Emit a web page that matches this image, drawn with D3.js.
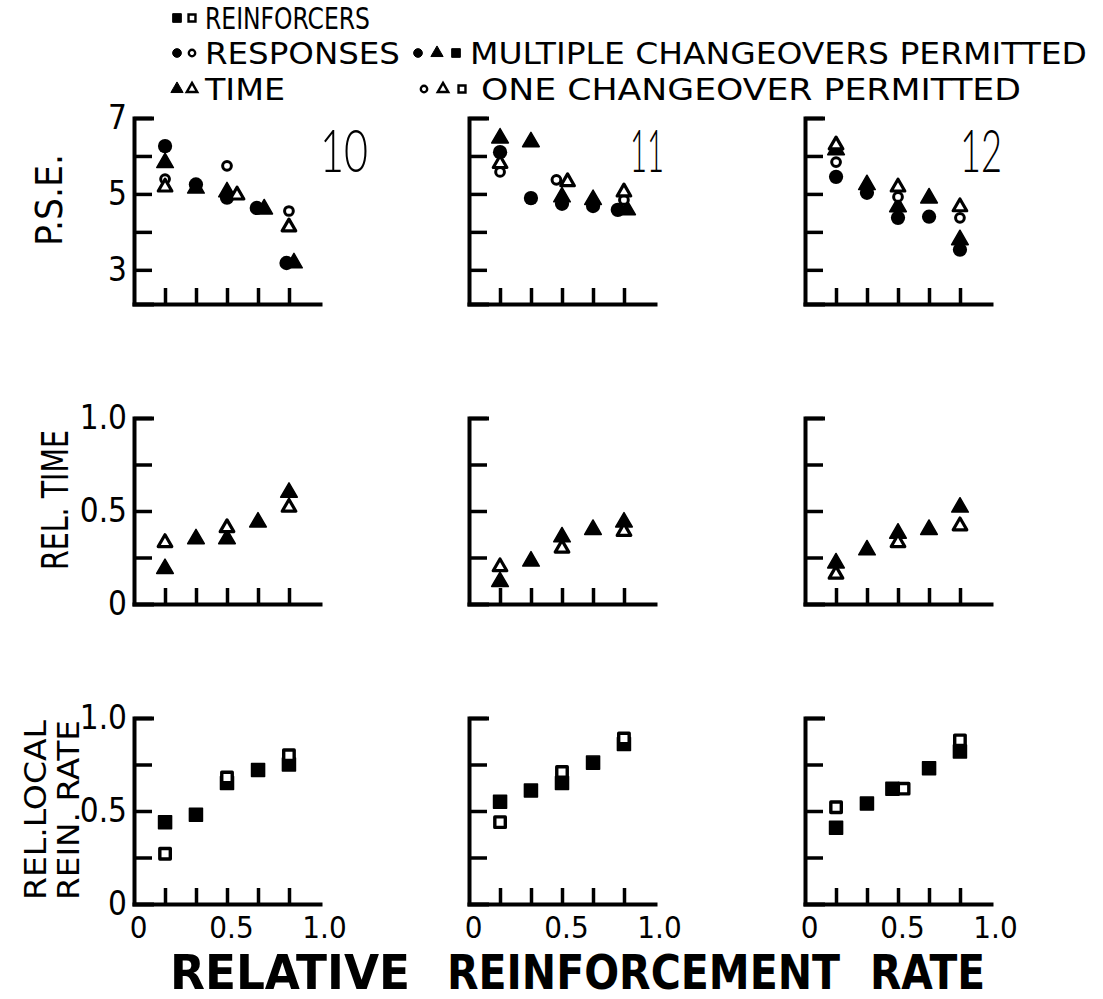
<!DOCTYPE html>
<html><head><meta charset="utf-8">
<script src="https://cdn.jsdelivr.net/npm/d3@7"></script>
<style>
body{margin:0;background:#fff}
text{font-family:"DejaVu Sans Condensed","DejaVu Sans",sans-serif;fill:#000}
</style>
</head><body>
<svg id="c" width="1103" height="999"></svg>
<script>
// ---------- DATA ----------
const subjects = ["10", "11", "12"];
const rowTitles = ["P.S.E.", "REL. TIME", ["REL.LOCAL", "REIN. RATE"]];
const xTicks = [1/6, 2/6, 3/6, 4/6, 5/6];
const xOneRates = [1/6, 3/6, 5/6];
const xLabels = ["0", "0.5", "1.0"];
const xLabelVals = [0, 0.5, 1];
const pseTicks = [3, 4, 5, 6, 7];
const pseLabels = [3, 5, 7];
const relTicks = [0.25, 0.5, 0.75, 1.0];
const relLabelVals = [0, 0.5, 1.0];
const relLabels = ["0", "0.5", "1.0"];

// P.S.E. – responses, multiple changeovers (filled circle)
const pseRespMultiX = [[0.167,0.333,0.5,0.66,0.82],[0.167,0.333,0.5,0.667,0.80],[0.167,0.333,0.5,0.667,0.833]];
const pseRespMulti  = [[6.26,5.25,4.90,4.63,3.18],[6.10,4.89,4.74,4.68,4.58],[5.45,5.03,4.37,4.40,3.53]];
// P.S.E. – time, multiple changeovers (filled triangle)
const pseTimeMultiX = [[0.167,0.333,0.5,0.70,0.86],[0.167,0.333,0.5,0.667,0.85],[0.167,0.333,0.5,0.667,0.833]];
const pseTimeMulti  = [[5.82,5.15,5.05,4.60,3.18],[6.47,6.37,4.92,4.85,4.58],[6.16,5.24,4.66,4.89,3.79]];
// P.S.E. – responses, one changeover (open circle)
const pseRespOneX = [[0.167,0.5,0.833],[0.167,0.47,0.833],[0.167,0.5,0.833]];
const pseRespOne  = [[5.39,5.74,4.55],[5.58,5.37,4.84],[5.84,4.92,4.37]];
// P.S.E. – time, one changeover (open triangle)
const pseTimeOneX = [[0.167,0.554,0.833],[0.167,0.53,0.833],[0.167,0.5,0.833]];
const pseTimeOne  = [[5.18,4.97,4.13],[5.80,5.32,5.05],[6.29,5.18,4.66]];

// Relative time
const relTimeMulti = [[0.19,0.35,0.35,0.44,0.60],[0.12,0.23,0.36,0.40,0.44],[0.22,0.29,0.38,0.40,0.52]];
const relTimeOne   = [[0.33,0.41,0.52],[0.20,0.30,0.39],[0.16,0.33,0.42]];

// Relative local reinforcement rate
const relReinMultiX = [[0.167,0.333,0.5,0.667,0.833],[0.167,0.333,0.5,0.667,0.833],[0.167,0.333,0.47,0.667,0.833]];
const relReinMulti  = [[0.44,0.48,0.65,0.72,0.75],[0.55,0.61,0.65,0.76,0.86],[0.41,0.54,0.62,0.73,0.82]];
const relReinOneX   = [[0.167,0.5,0.833],[0.167,0.5,0.833],[0.167,0.53,0.833]];
const relReinOne    = [[0.27,0.68,0.80],[0.44,0.71,0.89],[0.52,0.62,0.88]];

// ---------- LAYOUT ----------
const svg = d3.select("#c");
const panelLeft = [134, 469, 805];
const rowTop = [118, 418, 718];
const W = 186, H = 186;

const x = d3.scaleLinear().domain([0, 1]).range([0, W]);
const yPse = d3.scaleLinear().domain([2.1, 7]).range([H, 0]);
const yRel = d3.scaleLinear().domain([0, 1]).range([H, 0]);

const triFill = d3.symbol(d3.symbolTriangle, 120)();
const triOpen = d3.symbol(d3.symbolTriangle, 80)();
const sqFill = d3.symbol(d3.symbolSquare, 170)();
const sqOpen = d3.symbol(d3.symbolSquare, 110)();

function drawMarkers(g, xs, ys, yScale, kind) {
  const data = ys.map((v, i) => ({x: xs[i], y: v}));
  const sel = g.append("g").selectAll("path").data(data).join("path")
    .attr("transform", d => `translate(${x(d.x)},${yScale(d.y)})`);
  if (kind === "circleFill") sel.attr("d", d3.symbol(d3.symbolCircle, 160)()).attr("fill", "#000");
  if (kind === "circleOpen") sel.attr("d", d3.symbol(d3.symbolCircle, 60)()).attr("fill", "#fff").attr("stroke", "#000").attr("stroke-width", 3);
  if (kind === "triFill") sel.attr("d", triFill).attr("fill", "#000").attr("stroke", "#000").attr("stroke-width", 1.5).attr("stroke-linejoin", "round");
  if (kind === "triOpen") sel.attr("d", triOpen).attr("fill", "#fff").attr("stroke", "#000").attr("stroke-width", 3.2).attr("stroke-linejoin", "round");
  if (kind === "sqFill") sel.attr("d", sqFill).attr("fill", "#000").attr("stroke", "#000").attr("stroke-width", 1.5).attr("stroke-linejoin", "round");
  if (kind === "sqOpen") sel.attr("d", sqOpen).attr("fill", "#fff").attr("stroke", "#000").attr("stroke-width", 3.4).attr("stroke-linejoin", "round");
}

function axes(g, yScale, yTicks) {
  const ya = g.append("g").call(d3.axisLeft(yScale).tickValues(yTicks).tickSizeInner(-18).tickSizeOuter(-18).tickFormat(""));
  const xa = g.append("g").attr("transform", `translate(0,${H})`)
    .call(d3.axisBottom(x).tickValues(xTicks).tickSizeInner(-16).tickSizeOuter(0).tickFormat(""));
  [ya, xa].forEach(a => {
    a.selectAll("path.domain").attr("stroke", "#000").attr("stroke-width", 4).attr("fill", "none").attr("stroke-linecap", "square");
    a.selectAll(".tick line").attr("stroke", "#000").attr("stroke-width", 3.5);
  });
}

const numCenter = [210, 178, 176];
const numLen = [48, 34, 42];
for (let s = 0; s < 3; s++) {
  // Row 1 – P.S.E.
  let g = svg.append("g").attr("transform", `translate(${panelLeft[s]},${rowTop[0]})`);
  axes(g, yPse, pseTicks);
  drawMarkers(g, pseRespMultiX[s], pseRespMulti[s], yPse, "circleFill");
  drawMarkers(g, pseTimeMultiX[s], pseTimeMulti[s], yPse, "triFill");
  drawMarkers(g, pseRespOneX[s], pseRespOne[s], yPse, "circleOpen");
  drawMarkers(g, pseTimeOneX[s], pseTimeOne[s], yPse, "triOpen");
  g.append("text").attr("x", numCenter[s] - numLen[s] / 2).attr("y", 54)
    .style("font-family", "Lato, 'Open Sans', sans-serif")
    .style("font-weight", 300).style("font-size", "60px")
    .attr("textLength", numLen[s]).attr("lengthAdjust", "spacingAndGlyphs").text(subjects[s]);

  // Row 2 – relative time
  g = svg.append("g").attr("transform", `translate(${panelLeft[s]},${rowTop[1]})`);
  axes(g, yRel, relTicks);
  drawMarkers(g, xTicks, relTimeMulti[s], yRel, "triFill");
  drawMarkers(g, xOneRates, relTimeOne[s], yRel, "triOpen");

  // Row 3 – relative local reinforcement rate
  g = svg.append("g").attr("transform", `translate(${panelLeft[s]},${rowTop[2]})`);
  axes(g, yRel, relTicks);
  drawMarkers(g, relReinMultiX[s], relReinMulti[s], yRel, "sqFill");
  drawMarkers(g, relReinOneX[s], relReinOne[s], yRel, "sqOpen");

  // x labels under bottom row
  const xl = g.append("g").attr("transform", `translate(4,${H})`)
    .call(d3.axisBottom(x).tickValues(xLabelVals).tickSize(0).tickPadding(12).tickFormat((d, i) => xLabels[i]));
  xl.select("path.domain").remove();
  xl.selectAll("text").style("font-size", "31px").attr("fill", "#000");
}

// y labels on left panels
function yLabels(top, scale, vals, fmt) {
  const g = svg.append("g").attr("transform", `translate(${panelLeft[0]},${top})`)
    .call(d3.axisLeft(scale).tickValues(vals).tickSize(0).tickPadding(7).tickFormat(fmt));
  g.select("path.domain").remove();
  g.selectAll("text").style("font-size", "33px").attr("fill", "#000");
}
yLabels(rowTop[0], yPse, pseLabels, d => String(d));
yLabels(rowTop[1], yRel, relLabelVals, (d, i) => relLabels[i]);
yLabels(rowTop[2], yRel, relLabelVals, (d, i) => relLabels[i]);

// Row titles (rotated)
svg.append("text").attr("transform", "translate(62,200) rotate(-90)").attr("text-anchor", "middle")
  .style("font-size", "38px").attr("textLength", 92).attr("lengthAdjust", "spacingAndGlyphs").text(rowTitles[0]);
svg.append("text").attr("transform", "translate(68,500) rotate(-90)").attr("text-anchor", "middle")
  .style("font-size", "37px").attr("textLength", 140).attr("lengthAdjust", "spacingAndGlyphs").text(rowTitles[1]);
svg.append("text").attr("transform", "translate(46,810) rotate(-90)").attr("text-anchor", "middle")
  .style("font-size", "31px").attr("textLength", 180).attr("lengthAdjust", "spacingAndGlyphs").text(rowTitles[2][0]);
svg.append("text").attr("transform", "translate(79,810) rotate(-90)").attr("text-anchor", "middle")
  .style("font-size", "31px").attr("textLength", 180).attr("lengthAdjust", "spacingAndGlyphs").text(rowTitles[2][1]);

// X title
const xTitle = ["RELATIVE", "REINFORCEMENT", "RATE"];
const xTitlePos = [[170, 240], [447, 393], [870, 115]];
xTitle.forEach((t, i) => {
  svg.append("text").attr("x", xTitlePos[i][0]).attr("y", 989)
    .style("font-size", "48px").style("font-weight", "bold")
    .attr("textLength", xTitlePos[i][1]).attr("lengthAdjust", "spacingAndGlyphs").text(t);
});

// Legend
const leg = svg.append("g");
function legMark(kind, cx, cy) {
  const m = {
    circleFill: [d3.symbolCircle, 60, true], circleOpen: [d3.symbolCircle, 32, false],
    triFill: [d3.symbolTriangle, 65, true], triOpen: [d3.symbolTriangle, 48, false],
    sqFill: [d3.symbolSquare, 75, true], sqOpen: [d3.symbolSquare, 48, false]
  }[kind];
  leg.append("path").attr("d", d3.symbol(m[0], m[1])()).attr("transform", `translate(${cx},${cy})`)
    .attr("fill", m[2] ? "#000" : "#fff").attr("stroke", "#000").attr("stroke-width", m[2] ? 1 : 2.4);
}
const legendRows = [
  {y: 18, marks: ["sqFill", "sqOpen"], text: "REINFORCERS", len: 165},
  {y: 53, marks: ["circleFill", "circleOpen"], text: "RESPONSES", len: 195},
  {y: 89, marks: ["triFill", "triOpen"], text: "TIME", len: 80}
];
const legFont = "30px";
legendRows.forEach(r => {
  legMark(r.marks[0], 177, r.y); legMark(r.marks[1], 192, r.y);
  leg.append("text").attr("x", 205).attr("y", r.y + 11).style("font-size", legFont)
    .attr("textLength", r.len).attr("lengthAdjust", "spacingAndGlyphs").text(r.text);
});
const condRows = [
  {y: 53, marks: ["circleFill", "triFill", "sqFill"], x0: 418, text: "MULTIPLE CHANGEOVERS PERMITTED", tx: 470, len: 617},
  {y: 89, marks: ["circleOpen", "triOpen", "sqOpen"], x0: 424, text: "ONE CHANGEOVER PERMITTED", tx: 481, len: 540}
];
condRows.forEach(r => {
  r.marks.forEach((m, i) => legMark(m, r.x0 + i * 19, r.y));
  leg.append("text").attr("x", r.tx).attr("y", r.y + 11).style("font-size", legFont)
    .attr("textLength", r.len).attr("lengthAdjust", "spacingAndGlyphs").text(r.text);
});
</script>
</body></html>
